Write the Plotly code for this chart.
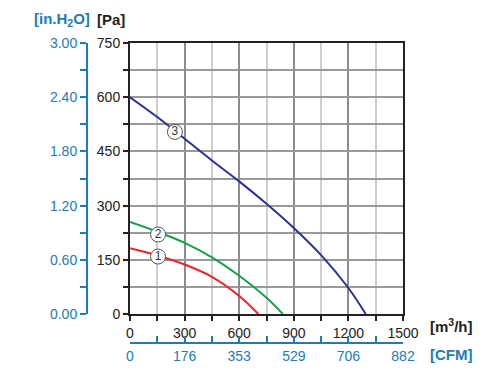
import plotly.graph_objects as go

# Curve data: airflow [m3/h] vs static pressure [Pa]
q1 = [0, 150, 300, 450, 600, 705]
p1 = [182, 162, 137, 103, 50, 0]
q2 = [0, 150, 300, 450, 600, 750, 840]
p2 = [255, 228, 197, 157, 106, 45, 0]
q3 = [0, 150, 300, 450, 600, 750, 900, 1050, 1200, 1295]
p3 = [600, 545, 485, 425, 367, 305, 238, 163, 72, 0]

curve_names = ["1", "2", "3"]
label_q = [154, 154, 247]
label_p = [159, 220, 504]

x_ticks = [0, 300, 600, 900, 1200, 1500]
x_labels = ["0", "300", "600", "900", "1200", "1500"]
cfm_labels = ["0", "176", "353", "529", "706", "882"]
y_ticks = [0, 150, 300, 450, 600, 750]
y_labels = ["0", "150", "300", "450", "600", "750"]
inh2o_labels = ["0.00", "0.60", "1.20", "1.80", "2.40", "3.00"]

BLUE = "#1b7db5"
FONT = "Arial"

OFF = 8  # default page body margin
W, H = 503 - OFF, 382 - OFF
ml, mr, mt, mb = 10, 10, 10, 10
pw, ph = W - ml - mr, H - mt - mb
def fx(px):
    return (px - OFF - ml) / pw
def fy(py):
    return (H - mb - (py - OFF)) / ph

fig = go.Figure()
for q, p, c in [(q1, p1, "#e8262a"), (q2, p2, "#16a04a"), (q3, p3, "#2e3192")]:
    fig.add_trace(go.Scatter(x=q, y=p, mode="lines", line=dict(color=c, width=2, shape="spline"),
                             hoverinfo="skip", showlegend=False))

fig.add_trace(go.Scatter(x=label_q, y=label_p, mode="markers+text", text=curve_names,
                         textposition="middle center",
                         textfont=dict(family=FONT, size=12, color="#333"),
                         marker=dict(size=15, color="white", line=dict(color="#555", width=1)),
                         showlegend=False, hoverinfo="skip", cliponaxis=False))

# invisible traces for secondary axes
fig.add_trace(go.Scatter(x=[0], y=[0], xaxis="x2", yaxis="y", mode="markers",
                         marker=dict(opacity=0), showlegend=False, hoverinfo="skip"))
fig.add_trace(go.Scatter(x=[0], y=[0], xaxis="x", yaxis="y2", mode="markers",
                         marker=dict(opacity=0), showlegend=False, hoverinfo="skip"))

xdom = [fx(130), fx(403)]
ydom = [fy(314), fy(43)]
TF = dict(family=FONT, size=14, color="#222")
TFB = dict(family=FONT, size=14, color=BLUE)

fig.update_layout(
    width=W, height=H, margin=dict(l=ml, r=mr, t=mt, b=mb, autoexpand=False),
    plot_bgcolor="white", paper_bgcolor="white",
    font=dict(family=FONT, size=14, color="#222"),
    xaxis=dict(domain=xdom, range=[0, 1500], tickmode="array", tickvals=x_ticks, ticktext=x_labels,
               ticks="outside", ticklen=5, automargin=False,
               tickwidth=1.5, tickcolor="#222", showline=True, linecolor="#222", linewidth=2,
               mirror=True, showgrid=True, gridcolor="#8c8c8c", gridwidth=1.5, zeroline=False,
               minor=dict(dtick=150, tick0=0, ticks="outside", ticklen=5, tickcolor="#222",
                          showgrid=True, gridcolor="#cfcfcf", gridwidth=2),
               tickfont=TF, fixedrange=True),
    yaxis=dict(domain=ydom, range=[0, 750], tickmode="array", tickvals=y_ticks, ticktext=y_labels,
               ticks="outside", ticklen=5, automargin=False,
               tickwidth=1.5, tickcolor="#222", showline=True, linecolor="#222", linewidth=2,
               mirror=True, showgrid=True, gridcolor="#9a9a9a", gridwidth=1.5, zeroline=False,
               minor=dict(dtick=75, tick0=0, ticks="outside", ticklen=5, tickcolor="#222",
                          showgrid=True, gridcolor="#9a9a9a", gridwidth=1.5),
               tickfont=TF, fixedrange=True),
    xaxis2=dict(overlaying="x", anchor="free", position=fy(343), side="bottom",
                range=[0, 1500], tickmode="array", tickvals=x_ticks, ticktext=cfm_labels,
                ticks="inside", ticklen=6, tickwidth=1.5, tickcolor=BLUE, automargin=False,
                showline=True, linecolor=BLUE, linewidth=2, showgrid=False, zeroline=False,
                minor=dict(dtick=150, tick0=0, ticks="inside", ticklen=6, tickcolor=BLUE),
                tickfont=TFB, fixedrange=True),
    yaxis2=dict(overlaying="y", anchor="free", position=fx(87), side="left",
                range=[0, 750], tickmode="array", tickvals=y_ticks, ticktext=inh2o_labels,
                ticks="outside", ticklen=6, tickwidth=1.5, tickcolor=BLUE, automargin=False,
                showline=True, linecolor=BLUE, linewidth=2, showgrid=False, zeroline=False,
                minor=dict(dtick=75, tick0=0, ticks="outside", ticklen=6, tickcolor=BLUE),
                tickfont=TFB, fixedrange=True),
    annotations=[
        dict(text="<b>[in.H<sub>2</sub>O]</b>", xref="paper", yref="paper", x=fx(62), y=fy(19),
             showarrow=False, font=dict(family=FONT, size=15, color=BLUE), xanchor="center", yanchor="middle"),
        dict(text="<b>[Pa]</b>", xref="paper", yref="paper", x=fx(111), y=fy(19),
             showarrow=False, font=dict(family=FONT, size=15, color="#222"), xanchor="center", yanchor="middle"),
        dict(text="<b>[m<sup>3</sup>/h]</b>", xref="paper", yref="paper", x=fx(428), y=fy(325),
             showarrow=False, font=dict(family=FONT, size=15, color="#222"), xanchor="left", yanchor="middle"),
        dict(text="<b>[CFM]</b>", xref="paper", yref="paper", x=fx(428), y=fy(354),
             showarrow=False, font=dict(family=FONT, size=15, color=BLUE), xanchor="left", yanchor="middle"),
    ],
)

fig.write_html("out.html")
